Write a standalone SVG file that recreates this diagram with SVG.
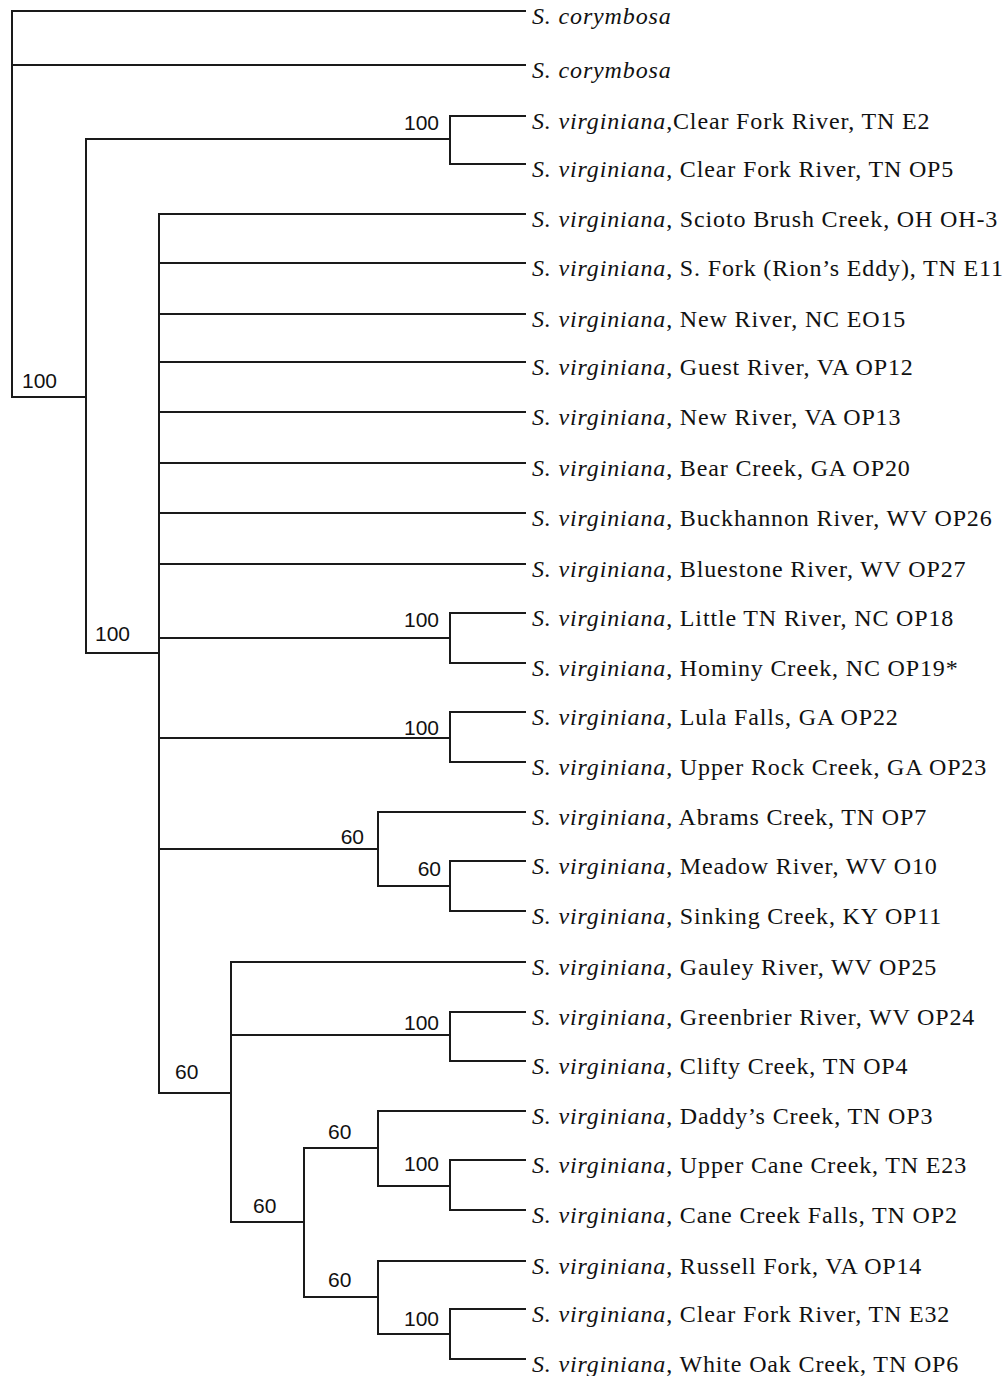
<svg xmlns="http://www.w3.org/2000/svg" width="1003" height="1376" viewBox="0 0 1003 1376">
<style>
.br{fill:none;stroke:#1a1a1a;stroke-width:2;stroke-linecap:square}
.lb{font-family:"Liberation Serif","Times New Roman",serif;font-size:24px;letter-spacing:0.85px;fill:#111}
.it{font-style:italic}
.bs{font-family:"Liberation Sans",Arial,sans-serif;font-size:21px;fill:#111}
</style>
<rect width="1003" height="1376" fill="#fff"/>
<g id="connectors">
<path class="br" d="M12 11V397M12 11H525M12 65H525M12 397H86
M86 139V653M86 139H450M450 116V164M450 116H525M450 164H525
M86 653H159M159 214V1093
M159 214H525M159 263H525M159 314H525M159 362H525M159 412H525M159 463H525M159 513H525M159 564H525
M159 638H450M450 613V663M450 613H525M450 663H525
M159 738H450M450 712V762M450 712H525M450 762H525
M159 849H378M378 812V886M378 812H525M378 886H450M450 861V911M450 861H525M450 911H525
M159 1093H231M231 962V1222M231 962H525M231 1035H450M450 1012V1061M450 1012H525M450 1061H525
M231 1222H304M304 1148V1297
M304 1148H378M378 1111V1186M378 1111H525M378 1186H450M450 1160V1210M450 1160H525M450 1210H525
M304 1297H378M378 1261V1334M378 1261H525M378 1334H450M450 1309V1359M450 1309H525M450 1359H525"/>
</g>
<g id="support">
<g id="n-root"><text class="bs" x="22" y="388">100</text></g>
<g id="n-clearfork"><text class="bs" x="439" y="130" text-anchor="end">100</text></g>
<g id="n-virginiana"><text class="bs" x="95" y="641">100</text></g>
<g id="n-littletn"><text class="bs" x="439" y="627" text-anchor="end">100</text></g>
<g id="n-lula"><text class="bs" x="439" y="735" text-anchor="end">100</text></g>
<g id="n-abrams"><text class="bs" x="364" y="844" text-anchor="end">60</text></g>
<g id="n-meadow"><text class="bs" x="441" y="876" text-anchor="end">60</text></g>
<g id="n-gauleyclade"><text class="bs" x="175" y="1079">60</text></g>
<g id="n-greenbrier"><text class="bs" x="439" y="1030" text-anchor="end">100</text></g>
<g id="n-lowerclade"><text class="bs" x="253" y="1213">60</text></g>
<g id="n-daddys"><text class="bs" x="328" y="1139">60</text></g>
<g id="n-uppercane"><text class="bs" x="439" y="1171" text-anchor="end">100</text></g>
<g id="n-russell"><text class="bs" x="328" y="1287">60</text></g>
<g id="n-clearfork2"><text class="bs" x="439" y="1326" text-anchor="end">100</text></g>
</g>
<g id="leaves">
<g id="t1"><text class="lb" x="532" y="24"><tspan class="it">S. corymbosa</tspan></text></g>
<g id="t2"><text class="lb" x="532" y="78"><tspan class="it">S. corymbosa</tspan></text></g>
<g id="t3"><text class="lb" x="532" y="129"><tspan class="it">S. virginiana</tspan>,Clear Fork River, TN E2</text></g>
<g id="t4"><text class="lb" x="532" y="177"><tspan class="it">S. virginiana</tspan>, Clear Fork River, TN OP5</text></g>
<g id="t5"><text class="lb" x="532" y="227"><tspan class="it">S. virginiana</tspan>, Scioto Brush Creek, OH OH-3</text></g>
<g id="t6"><text class="lb" x="532" y="276"><tspan class="it">S. virginiana</tspan>, S. Fork (Rion’s Eddy), TN E11</text></g>
<g id="t7"><text class="lb" x="532" y="327"><tspan class="it">S. virginiana</tspan>, New River, NC EO15</text></g>
<g id="t8"><text class="lb" x="532" y="375"><tspan class="it">S. virginiana</tspan>, Guest River, VA OP12</text></g>
<g id="t9"><text class="lb" x="532" y="425"><tspan class="it">S. virginiana</tspan>, New River, VA OP13</text></g>
<g id="t10"><text class="lb" x="532" y="476"><tspan class="it">S. virginiana</tspan>, Bear Creek, GA OP20</text></g>
<g id="t11"><text class="lb" x="532" y="526"><tspan class="it">S. virginiana</tspan>, Buckhannon River, WV OP26</text></g>
<g id="t12"><text class="lb" x="532" y="577"><tspan class="it">S. virginiana</tspan>, Bluestone River, WV OP27</text></g>
<g id="t13"><text class="lb" x="532" y="626"><tspan class="it">S. virginiana</tspan>, Little TN River, NC OP18</text></g>
<g id="t14"><text class="lb" x="532" y="676"><tspan class="it">S. virginiana</tspan>, Hominy Creek, NC OP19*</text></g>
<g id="t15"><text class="lb" x="532" y="725"><tspan class="it">S. virginiana</tspan>, Lula Falls, GA OP22</text></g>
<g id="t16"><text class="lb" x="532" y="775"><tspan class="it">S. virginiana</tspan>, Upper Rock Creek, GA OP23</text></g>
<g id="t17"><text class="lb" x="532" y="825"><tspan class="it">S. virginiana</tspan>, Abrams Creek, TN OP7</text></g>
<g id="t18"><text class="lb" x="532" y="874"><tspan class="it">S. virginiana</tspan>, Meadow River, WV O10</text></g>
<g id="t19"><text class="lb" x="532" y="924"><tspan class="it">S. virginiana</tspan>, Sinking Creek, KY OP11</text></g>
<g id="t20"><text class="lb" x="532" y="975"><tspan class="it">S. virginiana</tspan>, Gauley River, WV OP25</text></g>
<g id="t21"><text class="lb" x="532" y="1025"><tspan class="it">S. virginiana</tspan>, Greenbrier River, WV OP24</text></g>
<g id="t22"><text class="lb" x="532" y="1074"><tspan class="it">S. virginiana</tspan>, Clifty Creek, TN OP4</text></g>
<g id="t23"><text class="lb" x="532" y="1124"><tspan class="it">S. virginiana</tspan>, Daddy’s Creek, TN OP3</text></g>
<g id="t24"><text class="lb" x="532" y="1173"><tspan class="it">S. virginiana</tspan>, Upper Cane Creek, TN E23</text></g>
<g id="t25"><text class="lb" x="532" y="1223"><tspan class="it">S. virginiana</tspan>, Cane Creek Falls, TN OP2</text></g>
<g id="t26"><text class="lb" x="532" y="1274"><tspan class="it">S. virginiana</tspan>, Russell Fork, VA OP14</text></g>
<g id="t27"><text class="lb" x="532" y="1322"><tspan class="it">S. virginiana</tspan>, Clear Fork River, TN E32</text></g>
<g id="t28"><text class="lb" x="532" y="1372"><tspan class="it">S. virginiana</tspan>, White Oak Creek, TN OP6</text></g>
</g>
</svg>
